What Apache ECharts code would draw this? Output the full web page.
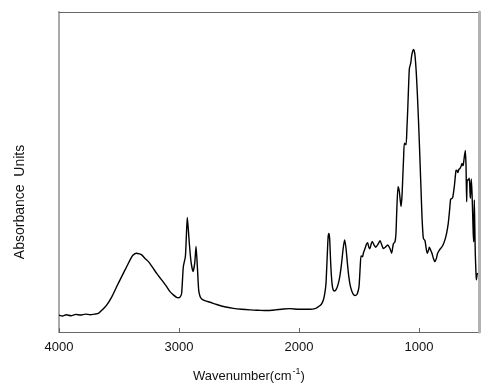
<!DOCTYPE html>
<html>
<head>
<meta charset="utf-8">
<script src="https://cdn.jsdelivr.net/npm/echarts@6/dist/echarts.min.js"></script>
<style>html,body{margin:0;padding:0;background:#fff;}#c{width:503px;height:384px;}</style>
</head>
<body>
<div id="c"></div>
<script>
const wavenumbers = [4000,3970,3940,3900,3860,3820,3780,3740,3700,3672,3640,3603,3560,3519,3478,3436,3394,3370,3353,3330,3311,3283,3255,3220,3186,3145,3103,3075,3047,3020,3006,2990,2978,2964,2947,2940,2931,2922,2914,2900,2883,2869,2858,2847,2836,2825,2811,2780,2742,2686,2620,2547,2480,2408,2340,2269,2200,2130,2075,2000,1908,1860,1839,1815,1797,1785,1775,1765,1757,1750,1744,1736,1725,1715,1705,1690,1672,1658,1645,1632,1620,1608,1598,1585,1570,1550,1531,1515,1500,1490,1483,1470,1464,1450,1438,1428,1418,1409,1398,1389,1375,1361,1345,1325,1310,1297,1280,1261,1242,1228,1214,1200,1192,1186,1175,1164,1150,1142,1136,1128,1122,1108,1100,1094,1086,1080,1069,1060,1047,1040,1033,1024,1014,1005,997,990,983,975,964,950,940,931,920,914,905,892,880,867,855,845,830,811,800,784,770,756,745,736,720,706,692,685,676,668,659,650,642,636,631,622,614,608,603,598,590,581,575,572,567,564,558,553,548,544,541,539,535,531,525,522,515,505,500];
const absorbance = [0.053,0.050,0.054,0.051,0.055,0.053,0.056,0.054,0.056,0.058,0.069,0.084,0.110,0.142,0.173,0.204,0.235,0.244,0.246,0.244,0.241,0.230,0.220,0.202,0.183,0.163,0.142,0.126,0.116,0.108,0.107,0.110,0.121,0.204,0.235,0.288,0.358,0.319,0.277,0.220,0.189,0.215,0.267,0.204,0.131,0.112,0.103,0.097,0.093,0.086,0.079,0.074,0.071,0.069,0.068,0.067,0.069,0.072,0.073,0.071,0.071,0.074,0.079,0.086,0.100,0.121,0.152,0.235,0.298,0.308,0.288,0.215,0.152,0.131,0.128,0.133,0.152,0.178,0.215,0.261,0.288,0.261,0.220,0.173,0.140,0.119,0.114,0.119,0.142,0.204,0.238,0.235,0.246,0.261,0.274,0.279,0.265,0.260,0.276,0.283,0.272,0.265,0.272,0.285,0.272,0.261,0.265,0.272,0.261,0.246,0.275,0.282,0.308,0.371,0.454,0.439,0.392,0.423,0.475,0.548,0.590,0.585,0.642,0.694,0.777,0.824,0.840,0.866,0.883,0.879,0.863,0.819,0.746,0.668,0.590,0.517,0.444,0.360,0.293,0.285,0.261,0.246,0.256,0.265,0.258,0.246,0.230,0.220,0.230,0.246,0.256,0.265,0.272,0.288,0.308,0.340,0.381,0.415,0.419,0.454,0.504,0.506,0.498,0.508,0.511,0.517,0.527,0.520,0.522,0.548,0.567,0.517,0.407,0.475,0.475,0.481,0.438,0.418,0.456,0.478,0.433,0.371,0.308,0.282,0.360,0.413,0.329,0.246,0.183,0.163,0.181,0.183,0.183];
const xTickValues = [1000, 2000, 3000, 4000];
const xAxisTitle = 'Wavenumber(cm';
const xAxisTitleSup = '-1';
const yAxisTitle = 'Absorbance  Units';

const seriesData = wavenumbers.map((w, i) => [w, absorbance[i]]);
const chart = echarts.init(document.getElementById('c'), null, {renderer: 'canvas'});
const font = 'Arial, "Liberation Sans", sans-serif';
chart.setOption({
  animation: false,
  backgroundColor: '#fff',
  grid: {left: 59, right: 24, top: 12, bottom: 52},
  xAxis: [{
    type: 'value', min: 500, max: 4000, inverse: true, position: 'bottom',
    axisLine: {show: true, onZero: false, lineStyle: {color: '#666', width: 1}},
    axisTick: {show: true, inside: true, length: 4, customValues: xTickValues, lineStyle: {color: '#666'}},
    axisLabel: {show: true, customValues: xTickValues, formatter: v => String(v), margin: 9, fontSize: 13, color: '#111', fontFamily: font},
    splitLine: {show: false}
  }, {
    type: 'value', min: 500, max: 4000, inverse: true, position: 'top',
    axisLine: {show: true, onZero: false, lineStyle: {color: '#666', width: 1}},
    axisTick: {show: false}, axisLabel: {show: false}, splitLine: {show: false}
  }],
  yAxis: [{
    type: 'value', min: 0, max: 1, position: 'left',
    axisLine: {show: true, onZero: false, lineStyle: {color: '#aaa', width: 2}},
    axisTick: {show: false}, axisLabel: {show: false}, splitLine: {show: false}
  }, {
    type: 'value', min: 0, max: 1, position: 'right', z: 10,
    axisLine: {show: true, onZero: false, lineStyle: {color: '#b2b2b2', width: 3}},
    axisTick: {show: false}, axisLabel: {show: false}, splitLine: {show: false}
  }],
  series: [{
    type: 'line', data: seriesData, xAxisIndex: 0, yAxisIndex: 0,
    showSymbol: false, smooth: 0.2,
    lineStyle: {color: '#000', width: 1.4},
    z: 3
  }],
  graphic: [{
    type: 'text', left: 193, top: 367,
    style: {
      text: '{a|' + xAxisTitle + '}{s|' + xAxisTitleSup + '}{a|)}',
      rich: {
        a: {fontSize: 13, fontFamily: font, fill: '#111', verticalAlign: 'bottom', lineHeight: 16},
        s: {fontSize: 9, fontFamily: font, fill: '#111', verticalAlign: 'top', lineHeight: 16, padding: [0, 0, 6, 1]}
      }
    }
  }, {
    type: 'text', x: 20, y: 202, rotation: Math.PI / 2,
    style: {text: yAxisTitle, fontSize: 14, fontFamily: font, fill: '#111', align: 'center', verticalAlign: 'middle'}
  }]
});
</script>
</body>
</html>
